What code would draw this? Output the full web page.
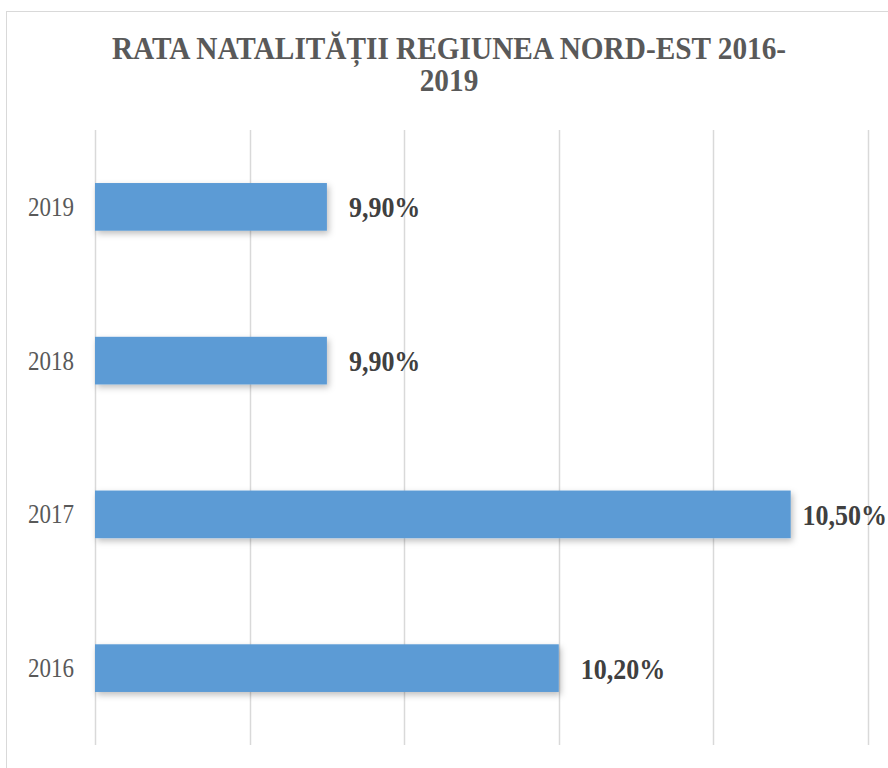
<!DOCTYPE html>
<html>
<head>
<meta charset="utf-8">
<script src="https://cdn.jsdelivr.net/npm/d3@7"></script>
<style>
	body { margin: 0; background: #fff; }
	svg { display: block; }
</style>
</head>
<body>
<div id="chart"></div>
<script>
const years = ["2016", "2017", "2018", "2019"];
const rates = [10.2, 10.5, 9.9, 9.9];
const rateLabels = ["10,20%", "10,50%", "9,90%", "9,90%"];
const gridTicks = [9.6, 9.8, 10.0, 10.2, 10.4, 10.6];
const titleLines = ["RATA NATALITĂȚII REGIUNEA NORD-EST 2016-", "2019"];

const totalWidth = 888;
const totalHeight = 768;
const margin = { left: 95, right: 20, top: 130, bottom: 23 };
const serif = "'Liberation Serif', 'Times New Roman', serif";

const svg = d3
	.select("#chart")
	.append("svg")
	.attr("width", totalWidth)
	.attr("height", totalHeight);

// soft shadow under the bars
const defs = svg.append("defs");
const shadow = defs.append("filter").attr("id", "shadow").attr("x", "-10%").attr("y", "-30%").attr("width", "130%").attr("height", "180%");
shadow.append("feDropShadow").attr("dx", 2).attr("dy", 3).attr("stdDeviation", 3).attr("flood-color", "#000").attr("flood-opacity", 0.25);

// chart frame
svg
	.append("rect")
	.attr("x", 6.5)
	.attr("y", 11.5)
	.attr("width", totalWidth + 20)
	.attr("height", totalHeight + 20)
	.attr("fill", "#fff")
	.attr("stroke", "#d9d9d9")
	.attr("stroke-width", 1);

const xAxis = d3
	.scaleLinear()
	.domain([9.6, 10.6])
	.range([margin.left, totalWidth - margin.right]);

const yAxis = d3
	.scaleBand()
	.domain(years.slice().reverse())
	.range([margin.top, totalHeight - margin.bottom])
	.paddingInner(0.69)
	.paddingOuter(0.345);

// title (text in the original is a bit taller than wide)
svg
	.append("g")
	.selectAll("text")
	.data(titleLines)
	.join("text")
	.attr("transform", (d, i) => `translate(449,${58.5 + i * 32}) scale(1,1.07)`)
	.attr("text-anchor", "middle")
	.attr("font-family", serif)
	.attr("font-weight", "bold")
	.attr("font-size", 29.3)
	.attr("fill", "#595959")
	.text((d) => d);

// vertical gridlines
svg
	.append("g")
	.selectAll("line")
	.data(gridTicks)
	.join("line")
	.attr("x1", (d) => Math.round(xAxis(d)) + 0.5)
	.attr("x2", (d) => Math.round(xAxis(d)) + 0.5)
	.attr("y1", margin.top)
	.attr("y2", totalHeight - margin.bottom)
	.attr("stroke", "#d9d9d9")
	.attr("stroke-width", 1.5);

// bars
svg
	.append("g")
	.selectAll("rect")
	.data(rates)
	.join("rect")
	.attr("x", xAxis(9.6))
	.attr("y", (d, i) => yAxis(years[i]))
	.attr("width", (d) => xAxis(d) - xAxis(9.6))
	.attr("height", yAxis.bandwidth())
	.attr("fill", "#5b9bd5")
	.attr("filter", "url(#shadow)");

// category labels
svg
	.append("g")
	.selectAll("text")
	.data(years)
	.join("text")
	.attr("transform", (d) => `translate(74,${yAxis(d) + yAxis.bandwidth() / 2 + 9}) scale(1,1.22)`)
	.attr("text-anchor", "end")
	.attr("font-family", serif)
	.attr("font-size", 23)
	.attr("fill", "#595959")
	.text((d) => d);

// value labels, pulled back inside the frame when they would run past it
const valueLabels = svg
	.append("g")
	.selectAll("text")
	.data(rates)
	.join("text")
	.attr("font-family", serif)
	.attr("font-weight", "bold")
	.attr("font-size", 26)
	.attr("fill", "#404040")
	.text((d, i) => rateLabels[i]);

valueLabels.attr("transform", function (d, i) {
	const w = this.getComputedTextLength();
	const x = Math.min(xAxis(d) + 22, totalWidth - 1 - w);
	return `translate(${x},${yAxis(years[i]) + yAxis.bandwidth() / 2 + 10.5}) scale(1,1.15)`;
});
</script>
</body>
</html>
